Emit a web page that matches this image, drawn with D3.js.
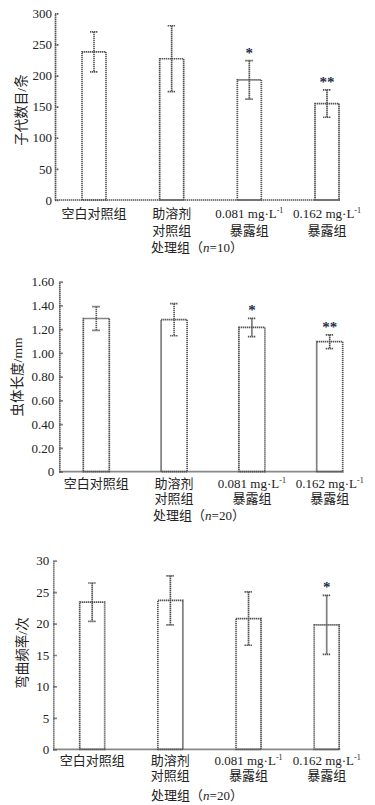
<!DOCTYPE html>
<html>
<head>
<meta charset="utf-8">
<script src="https://cdn.jsdelivr.net/npm/d3@7"></script>
<style>
  body { margin: 0; background: #fff; }
  svg { display: block; }
  text { fill: #222; font-family: 'Liberation Serif', 'Noto Sans CJK SC', serif; }
</style>
</head>
<body>
<svg id="chart" width="375" height="805"></svg>
<script>
// group labels: [line1 text, superscript, line2]
var groups = [
  ["空白对照组", "", ""],
  ["助溶剂", "", "对照组"],
  ["0.081 mg·L", "-1", "暴露组"],
  ["0.162 mg·L", "-1", "暴露组"]
];

var offspringMean = [238, 227, 193, 155],
    offspringSd = [32, 53, 31, 22],
    offspringSig = ["", "", "*", "**"],
    offspringTicks = [0, 50, 100, 150, 200, 250, 300];

var lengthMean = [1.29, 1.28, 1.215, 1.095],
    lengthSd = [0.10, 0.135, 0.077, 0.058],
    lengthSig = ["", "", "*", "**"],
    lengthTicks = [0, 0.2, 0.4, 0.6, 0.8, 1.0, 1.2, 1.4, 1.6];

var bendMean = [23.4, 23.7, 20.8, 19.8],
    bendSd = [3.05, 3.9, 4.25, 4.7],
    bendSig = ["", "", "", "*"],
    bendTicks = [0, 5, 10, 15, 20, 25, 30];

var svg = d3.select('#chart'),
    lineColor = '#555';

// dotted grey look of the scanned figure
var dotted = function(sel) {
  sel.attr('stroke', lineColor)
    .attr('stroke-width', 1.7)
    .attr('stroke-dasharray', '1.4,0.6');
};

var drawPanel = function(cfg) {
  var n = cfg.mean.length,
      idx = d3.range(n);

  var y = d3.scaleLinear().domain([0, cfg.max]).range([cfg.y0, cfg.yTop]),
      x = d3.scalePoint().domain(idx).range([cfg.c0, cfg.c1]);

  var g = svg.append('g');

  // y axis, ticks pointing inward
  var yAxis = d3.axisLeft(y)
    .tickValues(cfg.ticks)
    .tickSizeInner(-4)
    .tickSizeOuter(0)
    .tickPadding(cfg.pad)
    .tickFormat(cfg.fmt);

  var ya = g.append('g')
    .attr('transform', 'translate(' + cfg.ax + ',0)')
    .call(yAxis);
  ya.selectAll('path, line').call(dotted);
  ya.selectAll('text')
    .attr('font-size', 13)
    .attr('font-family', "'Liberation Serif', serif")
    .attr('fill', '#1c1c2a');

  // bars
  g.selectAll('rect.bar')
    .data(idx)
    .enter().append('rect')
    .attr('class', 'bar')
    .attr('x', function(i) { return x(i) - cfg.bw / 2; })
    .attr('width', cfg.bw)
    .attr('y', function(i) { return y(cfg.mean[i]); })
    .attr('height', function(i) { return y(0) - y(cfg.mean[i]); })
    .attr('fill', '#fff')
    .call(dotted);

  // x axis line
  g.append('line')
    .attr('x1', cfg.ax)
    .attr('x2', x(n - 1) + cfg.bw / 2 + 1)
    .attr('y1', y(0))
    .attr('y2', y(0))
    .call(dotted);

  // error bars
  var err = g.selectAll('g.err')
    .data(idx)
    .enter().append('g')
    .attr('class', 'err');

  err.append('line')
    .attr('x1', function(i) { return x(i); })
    .attr('x2', function(i) { return x(i); })
    .attr('y1', function(i) { return y(cfg.mean[i] + cfg.sd[i]); })
    .attr('y2', function(i) { return y(cfg.mean[i] - cfg.sd[i]); });

  err.append('line')
    .attr('x1', function(i) { return x(i) - 4; })
    .attr('x2', function(i) { return x(i) + 4; })
    .attr('y1', function(i) { return y(cfg.mean[i] + cfg.sd[i]); })
    .attr('y2', function(i) { return y(cfg.mean[i] + cfg.sd[i]); });

  err.append('line')
    .attr('x1', function(i) { return x(i) - 4; })
    .attr('x2', function(i) { return x(i) + 4; })
    .attr('y1', function(i) { return y(cfg.mean[i] - cfg.sd[i]); })
    .attr('y2', function(i) { return y(cfg.mean[i] - cfg.sd[i]); });

  err.selectAll('line').call(dotted);

  // significance marks
  g.selectAll('text.sig')
    .data(idx.filter(function(i) { return cfg.sig[i]; }))
    .enter().append('text')
    .attr('class', 'sig')
    .attr('x', function(i) { return x(i); })
    .attr('y', function(i) { return y(cfg.mean[i] + cfg.sd[i]) - 3; })
    .attr('text-anchor', 'middle')
    .attr('font-size', 15)
    .attr('font-weight', 'bold')
    .style('fill', '#1f2d4a')
    .text(function(i) { return cfg.sig[i]; });

  // group labels
  var lab = g.selectAll('g.lab')
    .data(idx)
    .enter().append('g')
    .attr('class', 'lab');

  var first = lab.append('text')
    .attr('x', function(i) { return x(i); })
    .attr('y', cfg.l1)
    .attr('text-anchor', 'middle')
    .attr('font-size', 13);
  first.append('tspan').text(function(i) { return groups[i][0]; });
  first.append('tspan')
    .attr('font-size', 8)
    .attr('dy', -5)
    .text(function(i) { return groups[i][1]; });

  lab.append('text')
    .attr('x', function(i) { return x(i); })
    .attr('y', cfg.l2)
    .attr('text-anchor', 'middle')
    .attr('font-size', 13)
    .text(function(i) { return groups[i][2]; });

  // x title
  var t = g.append('text')
    .attr('x', cfg.tx)
    .attr('y', cfg.ty)
    .attr('text-anchor', 'middle')
    .attr('font-size', 13);
  t.append('tspan').text('处理组（');
  t.append('tspan').attr('font-style', 'italic').text('n');
  t.append('tspan').text('=' + cfg.n + '）');

  // y title
  g.append('text')
    .attr('transform', 'translate(' + cfg.yx + ',' + cfg.yy + ') rotate(-90)')
    .attr('text-anchor', 'middle')
    .attr('font-size', 13.5)
    .text(cfg.ylabel);
};

drawPanel({
  mean: offspringMean, sd: offspringSd, sig: offspringSig, ticks: offspringTicks,
  max: 300, fmt: d3.format('d'), ylabel: '子代数目/条', n: 10,
  ax: 55, y0: 200, yTop: 13.3, c0: 94, c1: 327, bw: 24, pad: 3,
  l1: 217.5, l2: 234.5, tx: 197, ty: 251.5, yx: 26, yy: 110
});

drawPanel({
  mean: lengthMean, sd: lengthSd, sig: lengthSig, ticks: lengthTicks,
  max: 1.6, fmt: function(d) { return d === 0 ? '0' : d3.format('.2f')(d); },
  ylabel: '虫体长度/mm', n: 20,
  ax: 59.3, y0: 471.7, yTop: 281.7, c0: 96.3, c1: 329.7, bw: 26, pad: 5,
  l1: 487.5, l2: 502.5, tx: 199, ty: 519.5, yx: 22, yy: 377
});

drawPanel({
  mean: bendMean, sd: bendSd, sig: bendSig, ticks: bendTicks,
  max: 30, fmt: d3.format('d'), ylabel: '弯曲频率/次', n: 20,
  ax: 53.3, y0: 749.3, yTop: 560.7, c0: 92.2, c1: 326.7, bw: 25, pad: 4,
  l1: 764.5, l2: 779.5, tx: 197, ty: 799.5, yx: 27, yy: 653
});
</script>
</body>
</html>
